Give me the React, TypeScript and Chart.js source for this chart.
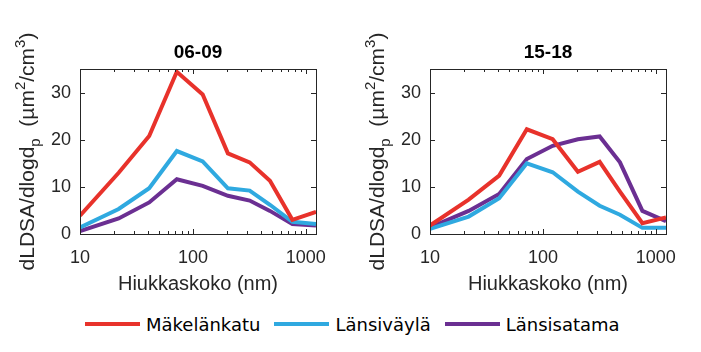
import React, { useEffect, useRef } from "react";
import { Chart, registerables } from "chart.js";
Chart.register(...registerables);

// Particle size bins (nm)
const sizes = [10, 22, 41, 72, 122, 204, 318, 481, 760, 1230];
const seriesNames = ["Mäkelänkatu", "Länsiväylä", "Länsisatama"];
const seriesColors = ["#e8322b", "#2fa9e0", "#6b2f92"];

// 06-09
const morningMakelankatu = [3.9, 13, 20.8, 34.4, 29.6, 17.1, 15.2, 11.3, 3.0, 4.7];
const morningLansivayla = [1.4, 5.3, 9.7, 17.6, 15.4, 9.7, 9.2, 6.2, 2.6, 2.1];
const morningLansisatama = [0.6, 3.3, 6.7, 11.6, 10.2, 8.1, 7.1, 4.9, 2.1, 1.8];

// 15-18
const afternoonMakelankatu = [1.8, 7.3, 12.4, 22.2, 20.1, 13.2, 15.3, 9.0, 2.3, 3.5];
const afternoonLansivayla = [1.1, 3.7, 7.6, 15.0, 13.1, 9.0, 6.0, 4.1, 1.3, 1.3];
const afternoonLansisatama = [1.4, 4.9, 8.5, 15.9, 18.7, 20.1, 20.7, 15.2, 4.9, 2.7];

const xMajorTicks = [10, 100, 1000];
const xMinorTicks = [20, 30, 40, 50, 60, 70, 80, 90, 200, 300, 400, 500, 600, 700, 800, 900];
const yTickValues = [0, 10, 20, 30];
const xMin = 10;
const xMax = 1230;
const yMin = 0;
const yMax = 35;

const xLabel = "Hiukkaskoko (nm)";
const AXIS = "#262626";
const FONT = "'Liberation Sans', Arial, Helvetica, sans-serif";

function makePlugin(title: string) {
  return {
    id: "matlabDecor",
    afterDraw(chart: any) {
      const ctx = chart.ctx;
      const { left, right, top, bottom } = chart.chartArea;
      const xs = chart.scales.x;
      const ys = chart.scales.y;
      ctx.save();
      ctx.strokeStyle = AXIS;
      ctx.lineWidth = 1;
      ctx.strokeRect(Math.round(left) + 0.5, Math.round(top) + 0.5, Math.round(right - left), Math.round(bottom - top));
      ctx.beginPath();
      const tick = (v: number, len: number) => {
        const px = Math.round(xs.getPixelForValue(v)) + 0.5;
        ctx.moveTo(px, bottom);
        ctx.lineTo(px, bottom - len);
        ctx.moveTo(px, top);
        ctx.lineTo(px, top + len);
      };
      xMajorTicks.forEach((v) => tick(v, 5));
      xMinorTicks.forEach((v) => tick(v, 3));
      yTickValues.forEach((v) => {
        const py = Math.round(ys.getPixelForValue(v)) + 0.5;
        ctx.moveTo(left, py);
        ctx.lineTo(left + 5, py);
        ctx.moveTo(right, py);
        ctx.lineTo(right - 5, py);
      });
      ctx.stroke();

      // Title
      ctx.fillStyle = "#000";
      ctx.font = `bold 19px ${FONT}`;
      ctx.textAlign = "center";
      ctx.textBaseline = "middle";
      ctx.fillText(title, (left + right) / 2, 53);

      // X label
      ctx.fillStyle = AXIS;
      ctx.font = `20px ${FONT}`;
      ctx.fillText(xLabel, (left + right) / 2, 284);

      // Y label with sub/superscripts
      const parts: [string, number, number][] = [
        ["dLDSA/dlogd", 21, 0],
        ["p", 15, 6],
        ["  (\u00b5m", 21, 0],
        ["2", 15, -9],
        ["/cm", 21, 0],
        ["3", 15, -9],
        [")", 21, 0],
      ];
      let total = 0;
      parts.forEach(([t, s]) => {
        ctx.font = `${s}px ${FONT}`;
        total += ctx.measureText(t).width;
      });
      ctx.translate(34, (top + bottom) / 2);
      ctx.rotate(-Math.PI / 2);
      ctx.textAlign = "left";
      ctx.textBaseline = "alphabetic";
      let x = -total / 2;
      parts.forEach(([t, s, dy]) => {
        ctx.font = `${s}px ${FONT}`;
        ctx.fillText(t, x, dy);
        x += ctx.measureText(t).width;
      });
      ctx.restore();
    },
  };
}

function Panel({ title, series, left }: { title: string; series: number[][]; left: number }) {
  const ref = useRef<HTMLCanvasElement | null>(null);
  useEffect(() => {
    if (!ref.current) return;
    const chart = new Chart(ref.current, {
      type: "line",
      data: {
        datasets: series.map((vals, i) => ({
          label: seriesNames[i],
          data: sizes.map((s, j) => ({ x: s, y: vals[j] })),
          borderColor: seriesColors[i],
          backgroundColor: seriesColors[i],
          borderWidth: 4,
          pointRadius: 0,
          tension: 0,
          borderJoinStyle: "miter",
        })),
      },
      options: {
        animation: false,
        responsive: false,
        devicePixelRatio: 1,
        layout: { padding: { left: 0, top: 69, right: 34, bottom: 0 } },
        plugins: { legend: { display: false }, tooltip: { enabled: false }, title: { display: false } },
        scales: {
          x: {
            type: "logarithmic",
            min: xMin,
            max: xMax,
            grid: { display: false, drawTicks: false },
            border: { display: false },
            afterBuildTicks: (scale: any) => {
              scale.ticks = xMajorTicks.map((v) => ({ value: v }));
            },
            afterFit: (scale: any) => {
              scale.height = 66;
            },
            ticks: {
              autoSkip: false,
              maxRotation: 0,
              padding: 13,
              color: AXIS,
              font: { family: FONT, size: 18 },
              callback: (v: any) => String(v),
            },
          },
          y: {
            type: "linear",
            min: yMin,
            max: yMax,
            grid: { display: false, drawTicks: false },
            border: { display: false },
            afterBuildTicks: (scale: any) => {
              scale.ticks = yTickValues.map((v) => ({ value: v }));
            },
            afterFit: (scale: any) => {
              scale.width = 80;
            },
            ticks: {
              padding: 9,
              color: AXIS,
              font: { family: FONT, size: 18 },
            },
          },
        },
      },
      plugins: [makePlugin(title)],
    } as any);
    return () => chart.destroy();
  }, []);
  return (
    <canvas
      ref={ref}
      width={350}
      height={300}
      style={{ position: "absolute", left, top: 0, width: 350, height: 300 }}
    />
  );
}

export default function App() {
  return (
    <div style={{ position: "fixed", left: 0, top: 0, width: 701, height: 352, background: "#fff" }}>
      <Panel title="06-09" series={[morningMakelankatu, morningLansivayla, morningLansisatama]} left={0} />
      <Panel title="15-18" series={[afternoonMakelankatu, afternoonLansivayla, afternoonLansisatama]} left={350} />
      <div
        style={{
          position: "absolute",
          left: 85,
          top: 312,
          height: 24,
          display: "flex",
          alignItems: "center",
          fontFamily: "'DejaVu Sans', Verdana, sans-serif",
          fontSize: 18,
          color: "#000",
          whiteSpace: "nowrap",
        }}
      >
        {seriesNames.map((n, i) => (
          <div key={n} style={{ display: "flex", alignItems: "center", marginRight: 14 }}>
            <div style={{ width: 55, height: 4, background: seriesColors[i], marginRight: 6 }} />
            <span>{n}</span>
          </div>
        ))}
      </div>
    </div>
  );
}
